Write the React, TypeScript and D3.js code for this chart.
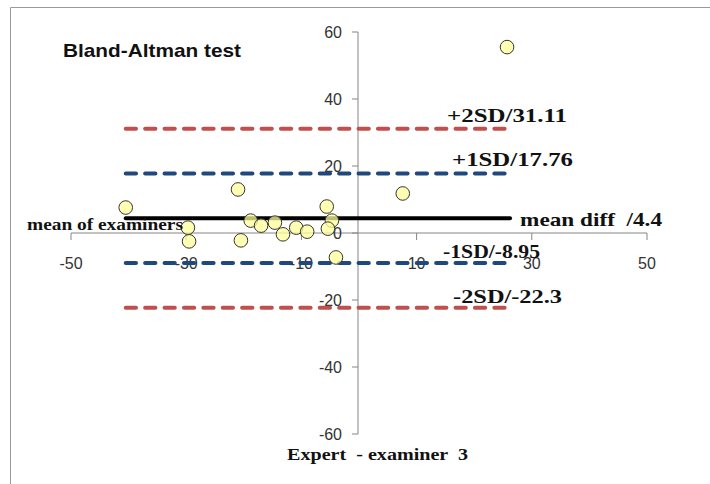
import React from "react";
import * as d3 from "d3";

// Bland-Altman points: mean of examiners (x) vs difference (y)
const meanVals = [-40.5, -21.0, -29.7, -29.5, -20.5, -18.8, -17.0, -14.6, -13.2, -10.9, -9.0, -5.6, -4.7, -5.4, -4.0, 25.7, 7.6];
const diffVals = [7.6, 13.0, 1.6, -2.5, -2.2, 3.7, 2.2, 3.1, -0.4, 1.6, 0.4, 7.9, 3.7, 1.3, -7.3, 55.5, 11.8];

const xTicks = [-50, -30, -10, 10, 30, 50];
const yTicks = [60, 40, 20, 0, -20, -40, -60];

const refNames = ["+2SD/31.11", "+1SD/17.76", "mean diff  /4.4", "-1SD/-8.95", "-2SD/-22.3"];
const refValues = [31.11, 17.76, 4.4, -8.95, -22.3];
const refKinds = ["2sd", "1sd", "mean", "1sd", "2sd"];

const W = 710;
const H = 484;

const x = d3.scaleLinear().domain([-50, 50]).range([71, 647]);
const y = d3.scaleLinear().domain([-60, 60]).range([434, 32]);

const AXIS = "#868686";
const sans = "'Liberation Sans', Arial, sans-serif";
const serif = "'Liberation Serif', 'Times New Roman', serif";

export default function App() {
  const xMin = d3.min(meanVals) as number;
  const xMax = d3.max(meanVals) as number;
  const pts = meanVals.map((m, i) => [m, diffVals[i]]);

  // label placement relative to each line end (dx, dy, text width)
  const labelPos = [
    { dx: -60, dy: -7, len: 120 },
    { dx: -55, dy: -8, len: 121 },
    { dx: 13, dy: 8, len: 142 },
    { dx: -64, dy: -5, len: 97 },
    { dx: -54, dy: -5, len: 109 },
  ];

  return (
    <svg width={W} height={H} style={{ position: "absolute", left: 0, top: 0, background: "#fff" }}>
      {/* frame */}
      <path d={`M10.5,${H} V7.5 H${W}`} fill="none" stroke="#9a9a9a" strokeWidth={1} />

      <text x={63} y={57} fontFamily={sans} fontWeight="bold" fontSize={19} textLength={178} lengthAdjust="spacingAndGlyphs" fill="#111">
        Bland-Altman test
      </text>

      {/* x axis */}
      <line x1={x(-50)} x2={x(50)} y1={y(0)} y2={y(0)} stroke={AXIS} strokeWidth={1} />
      {xTicks.map((t) => (
        <g key={"xt" + t}>
          <line x1={x(t)} x2={x(t)} y1={y(0)} y2={y(0) + 7} stroke={AXIS} />
          <text x={x(t)} y={269} textAnchor="middle" fontFamily={sans} fontSize={16} fill="#333">
            {t}
          </text>
        </g>
      ))}

      {/* y axis */}
      <line x1={x(0) - 1} x2={x(0) - 1} y1={y(60)} y2={y(-60)} stroke={AXIS} strokeWidth={1} />
      {yTicks.map((t) => (
        <g key={"yt" + t}>
          <line x1={x(0) - 7} x2={x(0) - 1} y1={y(t)} y2={y(t)} stroke={AXIS} />
          <text x={342} y={y(t) + 6} textAnchor="end" fontFamily={sans} fontSize={16} fill="#333">
            {t}
          </text>
        </g>
      ))}

      {/* reference lines */}
      {refValues.map((v, i) => {
        const k = refKinds[i];
        const color = k === "2sd" ? "#c0504d" : k === "1sd" ? "#1f497d" : "#000";
        const x2 = k === "mean" ? x(xMax) + 3 : x(xMax);
        return (
          <line
            key={"ref" + i}
            x1={x(xMin)}
            x2={x2}
            y1={y(v)}
            y2={y(v)}
            stroke={color}
            strokeWidth={4}
            strokeDasharray={k === "mean" ? undefined : "10.3 9.1"}
            strokeLinecap="round"
          />
        );
      })}

      {/* points */}
      {pts.map((p, i) => (
        <circle key={"p" + i} cx={x(p[0])} cy={y(p[1])} r={6.8} fill="#ffff99" fillOpacity={0.75} stroke="#333" strokeWidth={1} />
      ))}

      {/* reference labels */}
      {refNames.map((n, i) => {
        const lp = labelPos[i];
        return (
          <text
            key={"lab" + i}
            x={x(xMax) + lp.dx}
            y={y(refValues[i]) + lp.dy}
            fontFamily={serif}
            fontWeight="bold"
            fontSize={19}
            textLength={lp.len}
            lengthAdjust="spacingAndGlyphs"
            fill="#111"
            style={{ whiteSpace: "pre" }}
          >
            {n}
          </text>
        );
      })}

      <text x={27} y={230} fontFamily={serif} fontWeight="bold" fontSize={16} textLength={156} lengthAdjust="spacingAndGlyphs" fill="#111">
        mean of examiners
      </text>
      <text x={287} y={460} fontFamily={serif} fontWeight="bold" fontSize={17} textLength={181} lengthAdjust="spacingAndGlyphs" fill="#111" style={{ whiteSpace: "pre" }}>
        Expert  - examiner  3
      </text>
    </svg>
  );
}
